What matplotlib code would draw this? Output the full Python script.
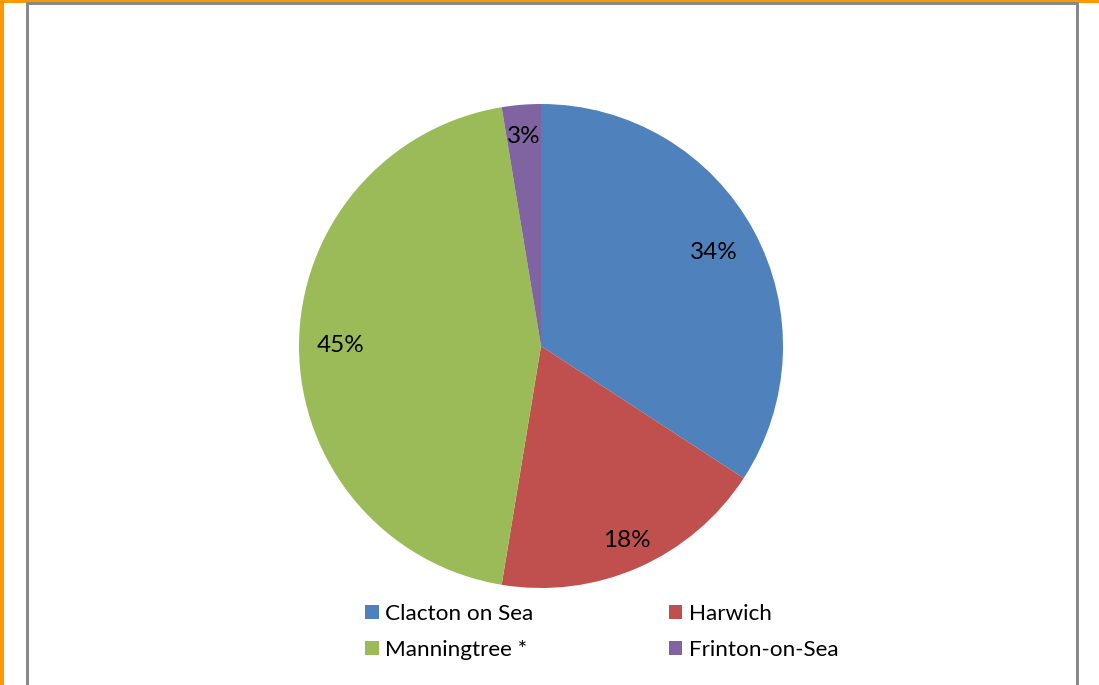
import matplotlib
matplotlib.use("Agg")
import matplotlib.pyplot as plt
from matplotlib.patches import Rectangle
import numpy as np

towns = ["Clacton on Sea", "Harwich", "Manningtree *", "Frinton-on-Sea"]
shares = [34.2, 18.4, 44.8, 2.6]
colours = ["#4F81BD", "#C0504D", "#9BBB59", "#8064A2"]

W, H = 1099, 685
plt.rcParams['font.family'] = ['Lato', 'DejaVu Sans']
fig = plt.figure(figsize=(W / 100, H / 100), dpi=100)
fig.patch.set_facecolor("white")


def box(x0, y0, w, h, colour):
    """Rectangle given in pixel units from the top-left corner."""
    fig.add_artist(Rectangle((x0 / W, 1 - (y0 + h) / H), w / W, h / H,
                             transform=fig.transFigure, facecolor=colour,
                             edgecolor="none", linewidth=0))


# outer highlight and chart frame
box(0, 0, 4, H, "#FF9900")
box(0, 0, W, 3, "#FF9900")
box(26, 2, 3, H, "#898989")
box(26, 2, 1053, 3, "#898989")
box(1076, 2, 3, H, "#898989")

cx, cy, r = 541, 346, 242
ax = fig.add_axes([(cx - r) / W, (H - cy - r) / H, 2 * r / W, 2 * r / H])
wedges, texts, autotexts = ax.pie(
    shares, colors=colours, startangle=90, counterclock=False,
    autopct="%.0f%%", pctdistance=0.84,
    wedgeprops=dict(linewidth=0),
    textprops=dict(fontsize=17.5, color="black"))
ax.set_xlim(-1, 1)
ax.set_ylim(-1, 1)

# best-fit style placement of the percentage labels along each slice's bisector
label_radius = [0.81, 0.88, 0.83, 0.87]
for w, t, rad in zip(wedges, autotexts, label_radius):
    mid = np.deg2rad((w.theta1 + w.theta2) / 2)
    t.set_position((rad * np.cos(mid), rad * np.sin(mid)))

order = [0, 2, 1, 3]
fig.legend([wedges[i] for i in order], [towns[i] for i in order],
           ncol=2, loc="upper left", bbox_to_anchor=(365 / W, 1 - 604 / H),
           frameon=False, fontsize=16.2, handlelength=0.6, handleheight=0.6,
           handletextpad=0.3, columnspacing=6.0, labelspacing=0.72,
           borderpad=0, borderaxespad=0)

fig.savefig("out.png", dpi=100, facecolor="white")
